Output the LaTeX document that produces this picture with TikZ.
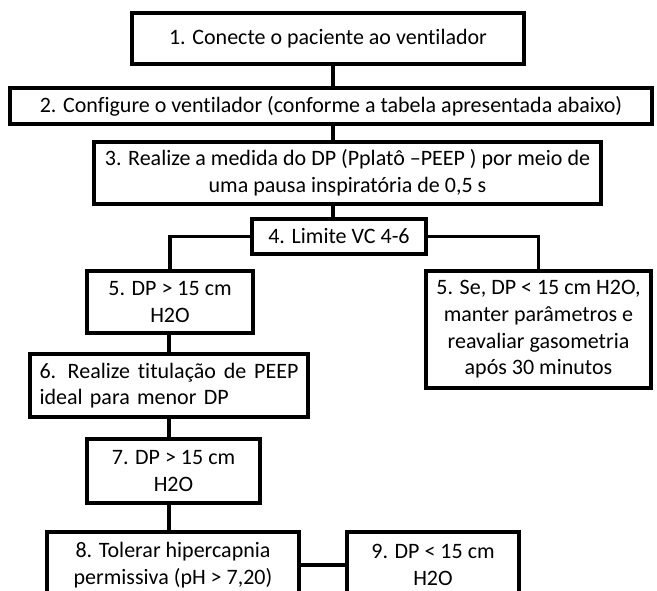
\documentclass[tikz,border=0pt]{standalone}
\usepackage{fontspec}
\setmainfont{Carlito}[Ligatures=NoCommon]
\begin{document}
\begin{tikzpicture}[x=0.75pt,y=-0.75pt,
  box/.style={draw=black,line width=2.3pt,inner sep=0pt,outer sep=0pt,align=center,
    font=\fontsize{16.5}{20}\selectfont,text=black},
  link/.style={draw=black,line width=2.3pt}]
\useasboundingbox (0,0) rectangle (657,590);
\fill[white] (0,0) rectangle (657,590);
\coordinate (cx) at (333,0);
\coordinate (lx) at (169,0);
\node[box,minimum width=294pt,minimum height=38.25pt] (b1) at (328,38.5) {1. Conecte o paciente ao ventilador};
\node[box,minimum width=481.5pt,minimum height=27pt] (b2) at (331,106) {2. Configure o ventilador (conforme a tabela apresentada abaixo)};
\node[box,minimum width=380.25pt,minimum height=46.5pt] (b3) at (347.5,173) {3. Realize a medida do DP (Pplatô –PEEP ) por meio de\\uma pausa inspiratória de 0,5 s};
\node[box,minimum width=130.5pt,minimum height=26.25pt] (b4) at (339,236.5) {4. Limite VC 4-6};
\node[box,minimum width=124.5pt,minimum height=46.5pt] (b5l) at (170,302) {5. DP > 15 cm\\H2O};
\node[box,minimum width=168.75pt,minimum height=87.75pt] (b5r) at (538.5,329.5) {5. Se, DP < 15 cm H2O,\\manter parâmetros e\\reavaliar gasometria\\após 30 minutos};
\node[box,minimum width=208.5pt,minimum height=47.25pt,text width=194.25pt,align=left] (b6) at (169,385.5) {6. \hfill Realize \hfill titulação \hfill de \hfill PEEP\\ideal para menor DP};
\node[box,minimum width=129.75pt,minimum height=48pt] (b7) at (173.5,471) {7. DP > 15 cm\\H2O};
\node[box,minimum width=189pt,minimum height=49.5pt] (b8) at (173,565) {8. Tolerar hipercapnia\\permissiva (pH > 7,20)};
\node[box,minimum width=129pt,minimum height=49.5pt] (b9) at (433,565) {9. DP < 15 cm\\H2O};
\draw[link] (b1.south -| cx) -- (b2.north -| cx);
\draw[link] (b2.south -| cx) -- (b3.north -| cx);
\draw[link] (b3.south -| cx) -- (b4.north -| cx);
\draw[link] (b4.west) -| (b5l.north);
\draw[link] (b4.east) -| (b5r.north);
\draw[link] (b5l.south -| lx) -- (b6.north -| lx);
\draw[link] (b6.south -| lx) -- (b7.north -| lx);
\draw[link] (b7.south -| lx) -- (b8.north -| lx);
\draw[link] (b8.east) -- (b9.west);
\end{tikzpicture}
\end{document}
